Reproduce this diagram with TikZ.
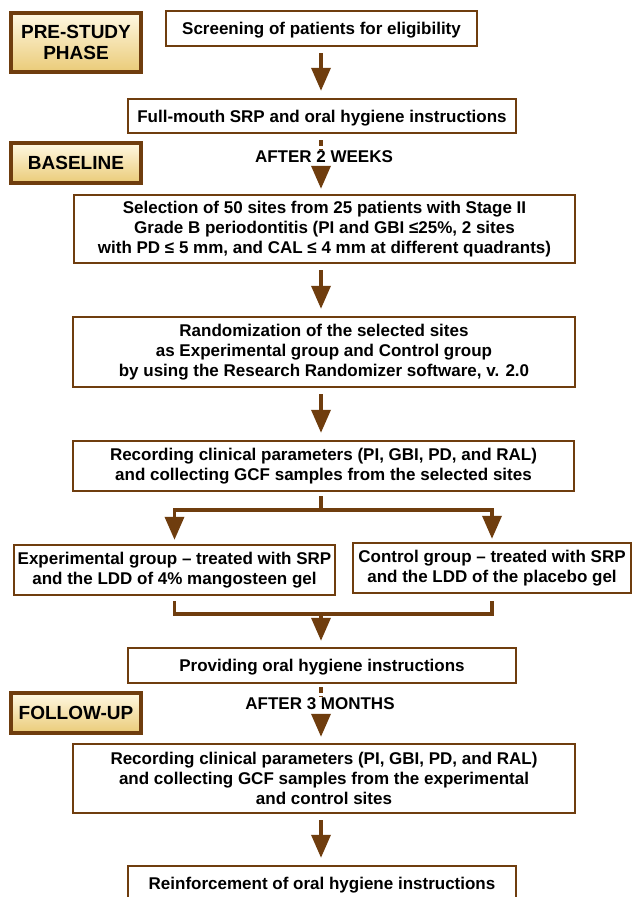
\documentclass[tikz,border=0pt]{standalone}
\usepackage{fontspec}
\setmainfont{Liberation Sans}
\usetikzlibrary{arrows.meta}
\definecolor{brn}{HTML}{6F3D0E}
\definecolor{lbltop}{HTML}{FFF8E2}
\definecolor{lblbot}{HTML}{EACB78}
\begin{document}
\begin{tikzpicture}[x=1pt,y=-1pt,
  box/.style={draw=brn, line width=2.4pt, fill=white, align=center, inner sep=0pt,
    font=\fontsize{17}{20}\selectfont\bfseries,
    execute at begin node={\rule{0pt}{16.5pt}}},
  lbl/.style={draw=brn, line width=3.5pt, top color=lbltop, bottom color=lblbot,
    align=center, inner sep=0pt, minimum width=130pt,
    font=\fontsize{19}{21}\selectfont\bfseries},
  arr/.style={draw=brn, line width=3.5pt, -{Triangle[width=19pt,length=23pt]},
    shorten <=6pt, shorten >=7pt},
  dasharr/.style={arr, dash pattern=on 6pt off 3pt},
  ln/.style={draw=brn, line width=3.5pt},
  note/.style={font=\fontsize{17}{20}\selectfont\bfseries, fill=white, inner sep=1pt}
]
\useasboundingbox (0,0) rectangle (632,897);
\fill[white] (0,0) rectangle (632,897);

% phase labels
\node[lbl, minimum height=59pt] (pre) at (76,42.5) {PRE-STUDY\\PHASE};
\node[lbl, minimum height=40pt] (base) at (76,163) {BASELINE};
\node[lbl, minimum height=40pt] (follow) at (76,713) {FOLLOW-UP};

% boxes
\node[box, minimum width=311pt, minimum height=35pt] (screen) at (321.5,28.5)
  {Screening of patients for eligibility};
\node[box, minimum width=388pt, minimum height=34pt] (fullm) at (322,116)
  {Full-mouth SRP and oral hygiene instructions};
\node[box, minimum width=501pt, minimum height=68pt] (select) at (324.5,229)
  {Selection of 50 sites from 25 patients with Stage II\\
   Grade B periodontitis (PI and GBI ≤25\%, 2 sites\\
   with PD ≤ 5 mm, and CAL ≤ 4 mm at different quadrants)};
\node[box, minimum width=502pt, minimum height=70pt] (random) at (324,352)
  {Randomization of the selected sites\\
   as Experimental group and Control group\\
   by using the Research Randomizer software, v. 2.0};
\node[box, minimum width=501pt, minimum height=50pt] (rec1) at (323.5,466)
  {Recording clinical parameters (PI, GBI, PD, and RAL)\\
   and collecting GCF samples from the selected sites};
\node[box, minimum width=321pt, minimum height=50pt] (exp) at (174.5,570)
  {Experimental group -- treated with SRP\\
   and the LDD of 4\% mangosteen gel};
\node[box, minimum width=278pt, minimum height=50pt] (ctrl) at (492,568)
  {Control group -- treated with SRP\\
   and the LDD of the placebo gel};
\node[box, minimum width=388pt, minimum height=35pt] (prov) at (322,665.5)
  {Providing oral hygiene instructions};
\node[box, minimum width=502pt, minimum height=69pt] (rec2) at (324,778.5)
  {Recording clinical parameters (PI, GBI, PD, and RAL)\\
   and collecting GCF samples from the experimental\\
   and control sites};
\node[box, minimum width=388pt, minimum height=35pt] (reinf) at (322,883.5)
  {Reinforcement of oral hygiene instructions};

% connectors
\coordinate (ax) at (321,0);
\coordinate (sp) at (321,510);
\coordinate (mg) at (321,614);

\draw[arr] (screen.south -| ax) -- (fullm.north -| ax);
\draw[dasharr, shorten >=5pt] (fullm.south -| ax) -- (select.north -| ax);
\node[note] (w2) at (324,157) {AFTER 2 WEEKS};
\draw[arr] (select.south -| ax) -- (random.north -| ax);
\draw[arr] (random.south -| ax) -- (rec1.north -| ax);

\draw[ln, shorten <=4pt] (rec1.south -| ax) -- (sp);
\draw[arr, shorten <=0pt, shorten >=4pt] (sp) -| (exp.north);
\draw[arr, shorten <=0pt, shorten >=3pt] (sp) -| (ctrl.north);

\draw[ln, shorten <=5pt] (exp.south) |- (mg);
\draw[ln, shorten <=7pt] (ctrl.south) |- (mg);
\draw[arr, shorten <=0pt, shorten >=6pt] (mg) -- (prov.north -| mg);

\draw[dasharr, shorten <=3pt, shorten >=6pt] (prov.south -| ax) -- (rec2.north -| ax);
\node[note] (m3) at (320,704) {AFTER 3 MONTHS};
\draw[arr] (rec2.south -| ax) -- (reinf.north -| ax);
\end{tikzpicture}
\end{document}
